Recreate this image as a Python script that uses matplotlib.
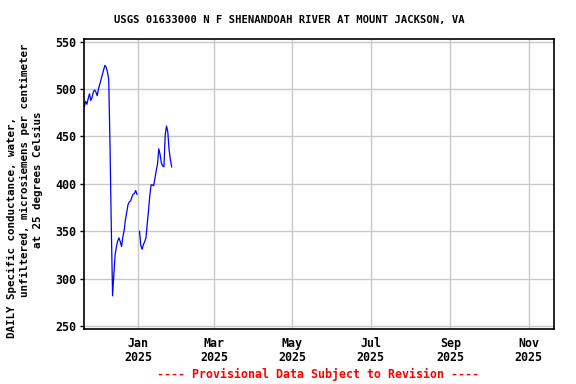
import numpy as np
import pandas as pd
import matplotlib
matplotlib.use("Agg")
import matplotlib.pyplot as plt

# daily values, Nov 20 2024 - Dec 31 2024
dec_start = "2024-11-20"
dec_vals = [481, 487, 484, 490, 495, 488, 491, 497, 499, 497,
            493, 500, 505, 510, 515, 520, 525, 523, 518, 510,
            440, 355, 282, 305, 325, 334, 340, 343, 339, 334,
            344, 351, 362, 370, 378, 381, 382, 386, 389, 390,
            393, 389]
# Jan 1 2025 missing
jan_start = "2025-01-02"
jan_vals = [350, 335, 331, 336, 339, 343, 358, 372, 388, 399,
            399, 398, 406, 414, 421, 437, 431, 422, 419, 418,
            452, 461, 455, 436, 426, 418]

title = "USGS 01633000 N F SHENANDOAH RIVER AT MOUNT JACKSON, VA"
ylabel_lines = ["DAILY Specific conductance, water,",
                "unfiltered, microsiemens per centimeter",
                "at 25 degrees Celsius"]
yticks = [250, 300, 350, 400, 450, 500, 550]
xtick_dates = ["2025-01-01", "2025-03-01", "2025-05-01",
               "2025-07-01", "2025-09-01", "2025-11-01"]

d1 = pd.date_range(dec_start, periods=len(dec_vals), freq="D")
d2 = pd.date_range(jan_start, periods=len(jan_vals), freq="D")
dates = list(d1) + [pd.Timestamp("2025-01-01")] + list(d2)
vals = dec_vals + [np.nan] + jan_vals

plt.rcParams['font.family'] = 'DejaVu Sans Mono'
plt.rcParams['font.weight'] = 'bold'

fig = plt.figure(figsize=(5.76, 3.84), dpi=100)
ax = fig.add_axes([0.1464, 0.1432, 0.8159, 0.7545])

ax.plot(dates, vals, color='blue', lw=0.9)

ax.set_ylim(247, 552.5)
ax.set_xlim(pd.Timestamp("2024-11-20"), pd.Timestamp("2025-11-21"))
ax.set_yticks(yticks)
ax.set_yticklabels([str(v) for v in yticks], fontsize=8.4, fontweight='bold')
xt = [pd.Timestamp(d) for d in xtick_dates]
ax.set_xticks(xt)
ax.set_xticklabels([d.strftime("%b") + "\n" + d.strftime("%Y") for d in xt],
                   fontsize=8.4, fontweight='bold', linespacing=1.1)
ax.tick_params(axis='y', length=3, width=1, pad=3, direction='out')
ax.tick_params(axis='x', length=0, pad=6)
ax.grid(True, color='#c8c8c8', lw=1)
ax.set_axisbelow(True)
for s in ax.spines.values():
    s.set_linewidth(1.2)
    s.set_color('black')

fig.text(289 / 576, 1 - 19.5 / 384, title, ha='center', va='center',
         fontsize=7.6, fontweight='bold')

ylx = [12 / 576, 25 / 576, 38 / 576]
yly = [1 - 227 / 384, 1 - 170 / 384, 1 - 180 / 384]
for txt, x, y in zip(ylabel_lines, ylx, yly):
    fig.text(x, y, txt, rotation=90, ha='center', va='center',
             fontsize=7.8, fontweight='bold')

fig.text(318 / 576, 1 - 374 / 384, "---- Provisional Data Subject to Revision ----",
         ha='center', va='center', fontsize=8.4, fontweight='bold', color='red')

fig.savefig("out.png", dpi=100)
